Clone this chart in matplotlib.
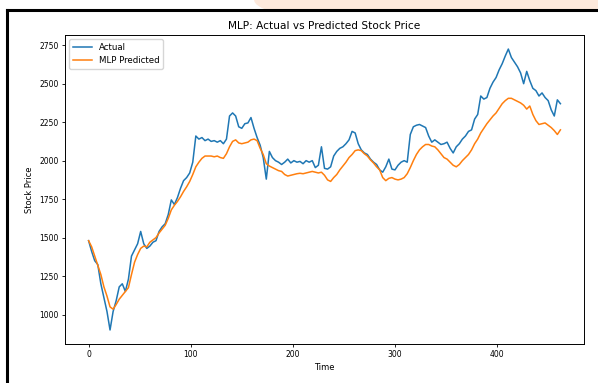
import matplotlib.pyplot as plt
from matplotlib.patches import Ellipse, Rectangle
from matplotlib.lines import Line2D
import numpy as np

# time index, sampled every 3 steps
time = np.arange(0, 463, 3)

actual = [
    1480, 1410, 1350, 1325, 1200, 1110, 1020, 900, 1020, 1090,
    1180, 1200, 1150, 1230, 1380, 1420, 1460, 1540, 1460, 1430,
    1445, 1470, 1480, 1540, 1570, 1590, 1650, 1745, 1715, 1760,
    1820, 1870, 1890, 1920, 1990, 2160, 2140, 2150, 2130, 2140,
    2125, 2130, 2120, 2130, 2110, 2140, 2290, 2310, 2290, 2220,
    2210, 2240, 2245, 2280, 2210, 2150, 2100, 2020, 1880, 2060,
    2020, 2000, 1990, 1975, 1990, 2010, 1985, 2000, 1990, 1995,
    1980, 2000, 1990, 2000, 1955, 1970, 2090, 1950, 1945, 1960,
    2030, 2060, 2080, 2090, 2110, 2135, 2190, 2180, 2110, 2070,
    2050, 2040, 2010, 1990, 1975, 1940, 1925, 1960, 2010, 1945,
    1940, 1970, 1990, 2000, 1990, 2170, 2220, 2230, 2235, 2225,
    2215, 2160, 2120, 2135, 2120, 2105, 2110, 2120, 2080, 2050,
    2090, 2110, 2140, 2160, 2190, 2200, 2270, 2300, 2420, 2400,
    2410, 2470, 2510, 2540, 2590, 2630, 2680, 2725, 2670, 2640,
    2610, 2570, 2500, 2580, 2520, 2470, 2455, 2420, 2440, 2410,
    2390, 2330, 2290, 2395, 2370,
]

predicted = [
    1480, 1440, 1380, 1320, 1260, 1180, 1120, 1050, 1035, 1065,
    1100, 1125, 1150, 1175, 1260, 1340, 1390, 1430, 1445, 1440,
    1470, 1485, 1500, 1530, 1555, 1580, 1625, 1680, 1710, 1735,
    1765, 1800, 1830, 1865, 1910, 1960, 1990, 2015, 2030, 2030,
    2030, 2025, 2030, 2020, 2015, 2045, 2090, 2125, 2135, 2115,
    2110, 2115, 2120, 2135, 2140, 2130, 2080, 2040, 1980, 1965,
    1955, 1945, 1935, 1930, 1910, 1900, 1905, 1910, 1915, 1918,
    1915, 1920, 1925, 1930, 1925, 1920, 1925, 1905, 1875, 1865,
    1890, 1910, 1940, 1965, 1990, 2020, 2040, 2065, 2070, 2065,
    2045, 2030, 2005, 1985, 1960, 1940, 1890, 1870, 1885, 1890,
    1880, 1875, 1880, 1890, 1915, 1955, 2000, 2040, 2070, 2090,
    2105, 2105, 2095, 2090, 2070, 2045, 2020, 2010, 1990, 1970,
    1960, 1975, 2000, 2020, 2040, 2070, 2110, 2140, 2180, 2210,
    2240, 2265, 2290, 2310, 2340, 2370, 2390, 2405, 2405, 2395,
    2385, 2375, 2360, 2335, 2355, 2300, 2260, 2235, 2240, 2245,
    2230, 2215, 2195, 2170, 2200,
]

fig = plt.figure(figsize=(5.98, 3.83), dpi=100)

# page background behind the framed figure
fig.patches.append(Ellipse((0.80, 1.0), 0.75, 0.16, transform=fig.transFigure,
                           facecolor='#fde9dc', edgecolor='none', zorder=-3))
fig.patches.append(Rectangle((0, 0), 1, 0.974, transform=fig.transFigure,
                             facecolor='white', edgecolor='none', zorder=-2))
fig.lines.append(Line2D([0.012, 0.012], [0, 0.974], transform=fig.transFigure,
                        color='black', lw=2.2, zorder=-1))
fig.lines.append(Line2D([0.012, 1.0], [0.974, 0.974], transform=fig.transFigure,
                        color='black', lw=2.2, zorder=-1))

ax = fig.add_axes([0.1087, 0.1018, 0.8679, 0.8068])
ax.plot(time, actual, label='Actual', color='#1f77b4', lw=1.1)
ax.plot(time, predicted, label='MLP Predicted', color='#ff7f0e', lw=1.1)

ax.set_title('MLP: Actual vs Predicted Stock Price', fontsize=7.6, pad=4)
ax.set_xlabel('Time', fontsize=6, labelpad=3)
ax.set_ylabel('Stock Price', fontsize=6, labelpad=4)
ax.set_xticks([0, 100, 200, 300, 400])
ax.set_yticks([1000, 1250, 1500, 1750, 2000, 2250, 2500, 2750])
ax.tick_params(labelsize=5.5, length=2.5, width=0.6, pad=2)
for s in ax.spines.values():
    s.set_linewidth(0.7)
ax.legend(loc='upper left', fontsize=6.2, frameon=True, handlelength=2.2)

fig.savefig('out.png', dpi=100)
